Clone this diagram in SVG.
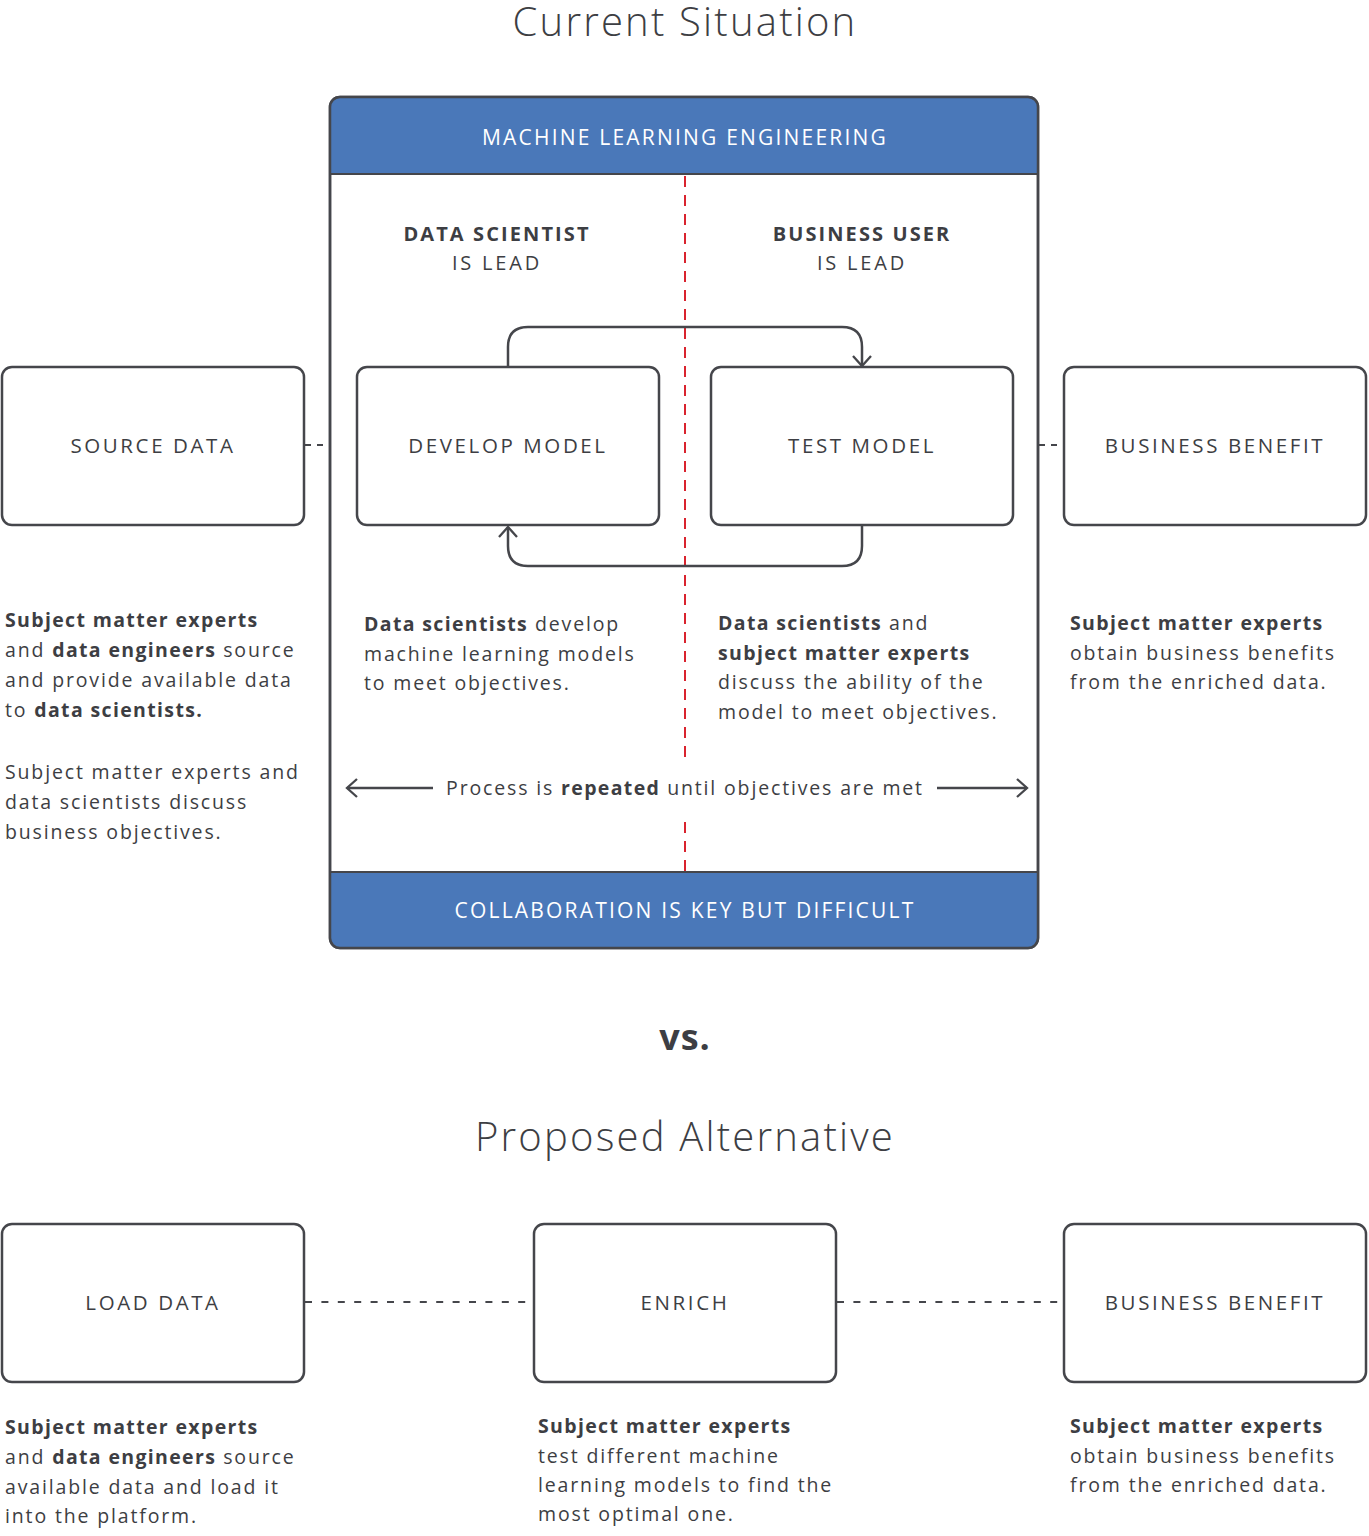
<svg xmlns="http://www.w3.org/2000/svg" width="1369" height="1536" viewBox="0 0 1369 1536">
<defs>
<style>
text{font-family:"Open Sans","Liberation Sans",sans-serif;fill:#3d3e43;}
.title{font-size:40px;font-weight:300;text-anchor:middle;letter-spacing:2.2px;}
.band{font-size:21px;fill:#ffffff;text-anchor:middle;letter-spacing:2.2px;}
.lbl{font-size:20.5px;font-weight:400;text-anchor:middle;letter-spacing:2.6px;}
.role{font-size:20px;text-anchor:middle;letter-spacing:2.8px;}
.role .b{letter-spacing:2.1px;}
.body{font-size:19.5px;letter-spacing:1.85px;}
.body .b{letter-spacing:1.35px;}
.b{font-weight:700;}
.box{fill:#ffffff;stroke:#45464b;stroke-width:2.5;}
.conn{fill:none;stroke:#45464b;stroke-width:2.5;}
.dot{fill:none;stroke:#45464b;stroke-width:2;stroke-dasharray:6 6;}
.dash{fill:none;stroke:#45464b;stroke-width:2;stroke-dasharray:7 9.4;}
.red{fill:none;stroke:#d9232e;stroke-width:2;stroke-dasharray:11 8;}
</style>
<marker id="chev" viewBox="0 0 20 20" refX="18" refY="10" markerWidth="20" markerHeight="20" markerUnits="userSpaceOnUse" orient="auto">
<path d="M8,1 L18,10 L8,19" fill="none" stroke="#45464b" stroke-width="2.3"/>
</marker>
</defs>
<rect width="1369" height="1536" fill="#ffffff"/>

<text class="title" x="685" y="36">Current Situation</text>

<g id="ml-engineering">
<rect class="box" x="330" y="97" width="708" height="851" rx="10"/>
<path d="M330,174 V107 Q330,97 340,97 H1028 Q1038,97 1038,107 V174 Z" fill="#4a78b9"/>
<path d="M330,872 V938 Q330,948 340,948 H1028 Q1038,948 1038,938 V872 Z" fill="#4a78b9"/>
<line x1="330" y1="174" x2="1038" y2="174" stroke="#45464b" stroke-width="2"/>
<line x1="330" y1="872" x2="1038" y2="872" stroke="#45464b" stroke-width="2"/>
<rect x="330" y="97" width="708" height="851" rx="10" fill="none" stroke="#45464b" stroke-width="2.5"/>
<text class="band" x="685" y="145">MACHINE LEARNING ENGINEERING</text>
<text class="band" x="685" y="918">COLLABORATION IS KEY BUT DIFFICULT</text>
<path class="red" d="M685,176 V760 M685,822 V872"/>
<text class="role" x="497" y="241"><tspan class="b">DATA SCIENTIST</tspan></text>
<text class="role" x="497" y="270">IS LEAD</text>
<text class="role" x="862" y="241"><tspan class="b">BUSINESS USER</tspan></text>
<text class="role" x="862" y="270">IS LEAD</text>
<text class="body" x="364" y="631"><tspan class="b">Data scientists</tspan> develop</text>
<text class="body" x="364" y="661">machine learning models</text>
<text class="body" x="364" y="690">to meet objectives.</text>
<text class="body" x="718" y="630"><tspan class="b">Data scientists</tspan> and</text>
<text class="body" x="718" y="660"><tspan class="b">subject matter experts</tspan></text>
<text class="body" x="718" y="689">discuss the ability of the</text>
<text class="body" x="718" y="719">model to meet objectives.</text>
<text class="body" x="685" y="795" text-anchor="middle">Process is <tspan class="b">repeated</tspan> until objectives are met</text>
</g>

<g id="source-data">
<rect class="box" x="2" y="367" width="302" height="158" rx="10"/>
<text class="lbl" x="153" y="453">SOURCE DATA</text>
<text class="body" x="5" y="627"><tspan class="b">Subject matter experts</tspan></text>
<text class="body" x="5" y="657">and <tspan class="b">data engineers</tspan> source</text>
<text class="body" x="5" y="687">and provide available data</text>
<text class="body" x="5" y="717">to <tspan class="b">data scientists.</tspan></text>
<text class="body" x="5" y="779">Subject matter experts and</text>
<text class="body" x="5" y="809">data scientists discuss</text>
<text class="body" x="5" y="839">business objectives.</text>
</g>

<g id="develop-model">
<rect class="box" x="357" y="367" width="302" height="158" rx="10"/>
<text class="lbl" x="508" y="453">DEVELOP MODEL</text>
</g>

<g id="test-model">
<rect class="box" x="711" y="367" width="302" height="158" rx="10"/>
<text class="lbl" x="862" y="453">TEST MODEL</text>
</g>

<g id="business-benefit-1">
<rect class="box" x="1064" y="367" width="302" height="158" rx="10"/>
<text class="lbl" x="1215" y="453">BUSINESS BENEFIT</text>
<text class="body" x="1070" y="630"><tspan class="b">Subject matter experts</tspan></text>
<text class="body" x="1070" y="660">obtain business benefits</text>
<text class="body" x="1070" y="689">from the enriched data.</text>
</g>

<text class="title" x="685" y="1050" style="font-weight:700;font-size:36px;letter-spacing:1px;">vs.</text>
<text class="title" x="685" y="1151">Proposed Alternative</text>

<g id="load-data">
<rect class="box" x="2" y="1224" width="302" height="158" rx="10"/>
<text class="lbl" x="153" y="1310">LOAD DATA</text>
<text class="body" x="5" y="1434"><tspan class="b">Subject matter experts</tspan></text>
<text class="body" x="5" y="1464">and <tspan class="b">data engineers</tspan> source</text>
<text class="body" x="5" y="1494">available data and load it</text>
<text class="body" x="5" y="1523">into the platform.</text>
</g>

<g id="enrich">
<rect class="box" x="534" y="1224" width="302" height="158" rx="10"/>
<text class="lbl" x="685" y="1310">ENRICH</text>
<text class="body" x="538" y="1433"><tspan class="b">Subject matter experts</tspan></text>
<text class="body" x="538" y="1463">test different machine</text>
<text class="body" x="538" y="1492">learning models to find the</text>
<text class="body" x="538" y="1521">most optimal one.</text>
</g>

<g id="business-benefit-2">
<rect class="box" x="1064" y="1224" width="302" height="158" rx="10"/>
<text class="lbl" x="1215" y="1310">BUSINESS BENEFIT</text>
<text class="body" x="1070" y="1433"><tspan class="b">Subject matter experts</tspan></text>
<text class="body" x="1070" y="1463">obtain business benefits</text>
<text class="body" x="1070" y="1492">from the enriched data.</text>
</g>

<g id="connectors">
<path class="conn" d="M508,367 V347 Q508,327 528,327 H842 Q862,327 862,347 V366" marker-end="url(#chev)"/>
<path class="conn" d="M862,525 V546 Q862,566 842,566 H528 Q508,566 508,546 V527" marker-end="url(#chev)"/>
<line class="conn" x1="433" y1="788" x2="347" y2="788" marker-end="url(#chev)" stroke-width="2"/>
<line class="conn" x1="937" y1="788" x2="1027" y2="788" marker-end="url(#chev)" stroke-width="2"/>
<line class="dot" x1="305" y1="445" x2="330" y2="445"/>
<line class="dot" x1="1039" y1="445" x2="1064" y2="445"/>
<line class="dash" x1="305" y1="1302" x2="534" y2="1302"/>
<line class="dash" x1="837" y1="1302" x2="1064" y2="1302"/>
</g>
</svg>
